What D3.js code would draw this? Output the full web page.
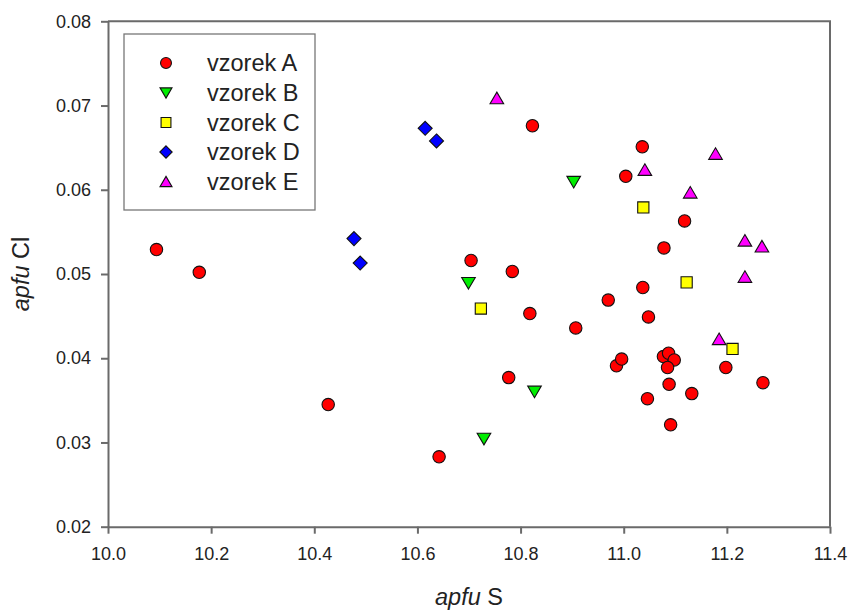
<!DOCTYPE html>
<html>
<head>
<meta charset="utf-8">
<script src="https://cdn.jsdelivr.net/npm/d3@7"></script>
<style>
  html, body { margin: 0; padding: 0; background: #fff; }
  svg { display: block; }
  text { font-family: "Liberation Sans", Arial, sans-serif; fill: #222; }
</style>
</head>
<body>
<div id="chart"></div>
<script>
// ---- data ----
const seriesNames = ["vzorek A", "vzorek B", "vzorek C", "vzorek D", "vzorek E"];
const seriesColors = ["#ff0000", "#00ee00", "#ffff00", "#0000ff", "#ff00ff"];
const seriesShapes = ["circle", "triDown", "square", "diamond", "triUp"];

const aX = [10.094, 10.177, 10.427, 10.642, 10.704, 10.784, 10.777, 10.818, 10.823, 10.907,
            10.970, 10.986, 10.996, 11.004, 11.036, 11.037, 11.048, 11.046, 11.078, 11.077,
            11.087, 11.098, 11.085, 11.088, 11.091, 11.118, 11.132, 11.198, 11.270];
const aY = [0.0529, 0.0502, 0.0345, 0.0283, 0.0516, 0.0503, 0.0377, 0.0453, 0.0676, 0.0436,
            0.0469, 0.0391, 0.0399, 0.0616, 0.0651, 0.0484, 0.0449, 0.0352, 0.0531, 0.0402,
            0.0406, 0.0398, 0.0389, 0.0369, 0.0321, 0.0563, 0.0358, 0.0389, 0.0371];
const bX = [10.699, 10.903, 10.827, 10.729];
const bY = [0.0489, 0.0609, 0.0360, 0.0304];
const cX = [10.723, 11.038, 11.122, 11.211];
const cY = [0.0459, 0.0579, 0.0490, 0.0411];
const dX = [10.477, 10.489, 10.615, 10.637];
const dY = [0.0542, 0.0513, 0.0673, 0.0658];
const eX = [10.754, 11.041, 11.178, 11.129, 11.235, 11.268, 11.235, 11.185];
const eY = [0.0709, 0.0624, 0.0643, 0.0597, 0.0540, 0.0533, 0.0497, 0.0423];

const xTicks = [10.0, 10.2, 10.4, 10.6, 10.8, 11.0, 11.2, 11.4];
const yTicks = [0.02, 0.03, 0.04, 0.05, 0.06, 0.07, 0.08];

const seriesX = [aX, bX, cX, dX, eX];
const seriesY = [aY, bY, cY, dY, eY];

// ---- layout ----
const W = 854, H = 610;
const mLeft = 108, mRight = 830, mTop = 21.3, mBottom = 526.7;

const svg = d3.select("#chart").append("svg").attr("width", W).attr("height", H);

const x = d3.scaleLinear().domain([10.0, 11.4]).range([mLeft, mRight]);
const y = d3.scaleLinear().domain([0.02, 0.08]).range([mBottom, mTop]);

const axisColor = "#6a6a6a";

// frame (top & right)
svg.append("path")
  .attr("d", `M${mLeft},${mTop}H${mRight}V${mBottom}`)
  .attr("fill", "none").attr("stroke", axisColor).attr("stroke-width", 2);

// x axis
const gx = svg.append("g").attr("transform", `translate(0,${mBottom})`)
  .call(d3.axisBottom(x).tickValues(xTicks).tickFormat(d3.format(".1f")).tickSizeOuter(0).tickSizeInner(7).tickPadding(9));
// y axis
const gy = svg.append("g").attr("transform", `translate(${mLeft},0)`)
  .call(d3.axisLeft(y).tickValues(yTicks).tickFormat(d3.format(".2f")).tickSizeOuter(0).tickSizeInner(7).tickPadding(10));

[gx, gy].forEach(g => {
  g.select(".domain").attr("stroke", axisColor).attr("stroke-width", 2);
  g.selectAll(".tick line").attr("stroke", axisColor).attr("stroke-width", 2);
  g.selectAll(".tick text").attr("font-size", "18px").attr("fill", "#2a2a2a")
   .attr("font-family", "'Liberation Sans', Arial, sans-serif");
});
gx.selectAll(".tick text").attr("dy", "0.95em");

// axis titles
const xt = svg.append("text").attr("x", (mLeft + mRight) / 2).attr("y", 605)
  .attr("text-anchor", "middle").attr("font-size", "23.5px");
xt.append("tspan").attr("font-style", "italic").text("apfu");
xt.append("tspan").text(" S");

const yt = svg.append("text")
  .attr("transform", `translate(29,${(mTop + mBottom) / 2}) rotate(-90)`)
  .attr("text-anchor", "middle").attr("font-size", "23.5px");
yt.append("tspan").attr("font-style", "italic").text("apfu");
yt.append("tspan").text(" Cl");

// ---- marker shapes ----
function shapePath(shape, s) {
  switch (shape) {
    case "circle": {
      const r = 6.2 * s;
      return `M${-r},0A${r},${r} 0 1,0 ${r},0A${r},${r} 0 1,0 ${-r},0Z`;
    }
    case "square": {
      const h = 5.6 * s;
      return `M${-h},${-h}H${h}V${h}H${-h}Z`;
    }
    case "diamond": {
      const h = 7 * s;
      return `M0,${-h}L${h},0L0,${h}L${-h},0Z`;
    }
    case "triUp": {
      const w = 6.8 * s, h = 5.8 * s;
      return `M0,${-h}L${w},${h}L${-w},${h}Z`;
    }
    case "triDown": {
      const w = 6.8 * s, h = 5.8 * s;
      return `M0,${h}L${w},${-h}L${-w},${-h}Z`;
    }
  }
}

// ---- points ----
seriesNames.forEach((name, i) => {
  const pts = seriesX[i].map((v, j) => ({ x: v, y: seriesY[i][j] }));
  svg.append("g").selectAll("path").data(pts).join("path")
    .attr("transform", d => `translate(${x(d.x)},${y(d.y)})`)
    .attr("d", shapePath(seriesShapes[i], 1))
    .attr("fill", seriesColors[i])
    .attr("stroke", "#111").attr("stroke-width", 1.1);
});

// ---- legend ----
const lg = svg.append("g");
lg.append("rect").attr("x", 124).attr("y", 34).attr("width", 191).attr("height", 176)
  .attr("fill", "#fff").attr("stroke", "#777").attr("stroke-width", 1.3);
const rowY = [63, 93, 122.5, 152, 181.5];
seriesNames.forEach((name, i) => {
  lg.append("path").attr("transform", `translate(166,${rowY[i]})`)
    .attr("d", shapePath(seriesShapes[i], 0.88))
    .attr("fill", seriesColors[i]).attr("stroke", "#111").attr("stroke-width", 1.1);
  lg.append("text").attr("x", 207).attr("y", rowY[i]).attr("dy", "0.36em")
    .attr("font-size", "23.5px").text(name);
});
</script>
</body>
</html>
